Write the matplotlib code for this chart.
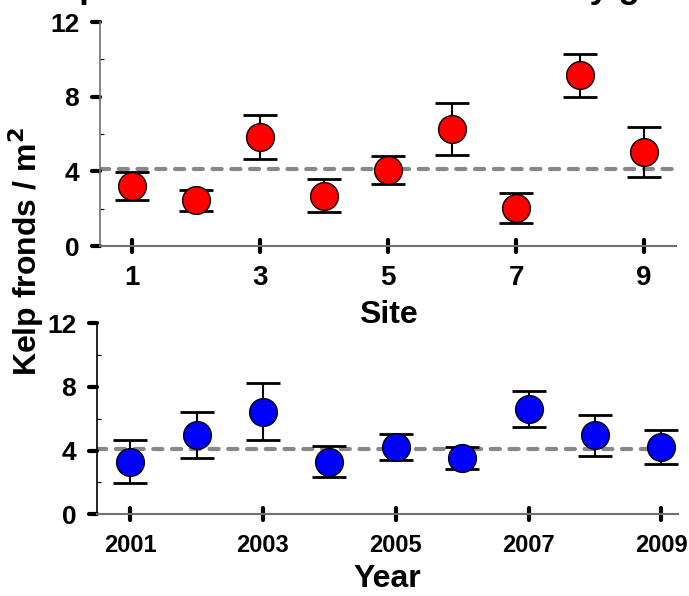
import matplotlib
matplotlib.use('Agg')
import matplotlib.pyplot as plt
from matplotlib.markers import MarkerStyle, TICKLEFT

plt.rcParams['font.family'] = ['Liberation Sans', 'DejaVu Sans']
plt.rcParams['font.weight'] = 'bold'

# --- data ---
sites      = [1, 2, 3, 4, 5, 6, 7, 8, 9]
site_mean  = [3.2, 2.45, 5.82, 2.7, 4.07, 6.25, 2.05, 9.15, 5.03]
site_err   = [0.75, 0.55, 1.18, 0.87, 0.73, 1.40, 0.80, 1.15, 1.35]
site_grand = 4.1

years      = [2001, 2002, 2003, 2004, 2005, 2006, 2007, 2008, 2009]
year_mean  = [3.31, 4.98, 6.45, 3.31, 4.25, 3.52, 6.60, 4.96, 4.25]
year_err   = [1.36, 1.42, 1.78, 0.97, 0.82, 0.68, 1.12, 1.31, 1.07]
year_grand = 4.1

site_ticks = [1, 3, 5, 7, 9]
year_ticks = [2001, 2003, 2005, 2007, 2009]
y_ticks    = [0, 4, 8, 12]
y_minor    = [2, 6, 10]

W, H = 689, 596
fig = plt.figure(figsize=(W / 100, H / 100), dpi=100)

ax1 = fig.add_axes([100 / W, 1 - 246 / H, 576 / W, 224 / H])
ax2 = fig.add_axes([97 / W, 1 - 514.3 / H, 581 / W, 191 / H])


def style_panel(ax, xs, means, errs, grand, color, xticks, xlim, xfs, left_col):
    ax.axhline(grand, color="#888888", linewidth=3, linestyle=(0, (2.2, 2.3)),
               dash_capstyle="round", zorder=1)
    ax.errorbar(xs, means, yerr=errs, fmt="none", ecolor="black",
                elinewidth=1.5, capsize=12, capthick=2, zorder=2)
    ax.plot(xs, means, "o", markersize=20, markerfacecolor=color,
            markeredgecolor="black", markeredgewidth=1, zorder=3)

    ax.set_xlim(*xlim)
    ax.set_ylim(0, 12)
    for s in ["top", "right"]:
        ax.spines[s].set_visible(False)
    ax.spines["left"].set_color(left_col)
    ax.spines["bottom"].set_color("#707070")
    ax.spines["left"].set_linewidth(1.2)
    ax.spines["bottom"].set_linewidth(1.5)

    ax.set_yticks(y_ticks)
    ax.set_yticks(y_minor, minor=True)
    ax.set_xticks(xticks)
    ax.tick_params(axis="y", which="major", direction="out", length=6,
                   width=3, labelsize=19, pad=9)
    ax.tick_params(axis="y", which="minor", direction="in", length=3,
                   width=0.8)
    ax.tick_params(axis="x", which="major", direction="inout", length=8,
                   width=3, labelsize=xfs, pad=10)
    for t in ax.yaxis.get_major_ticks():
        t.tick1line.set_marker(MarkerStyle(TICKLEFT, capstyle="round"))
    for t in ax.xaxis.get_major_ticks():
        t.tick1line.set_marker(MarkerStyle("|", capstyle="round"))
    for lbl in ax.get_xticklabels() + ax.get_yticklabels():
        lbl.set_fontweight("bold")


style_panel(ax1, sites, site_mean, site_err, site_grand, "#FF0000",
            site_ticks, (0.5, 9.5), 20, "#707070")
style_panel(ax2, years, year_mean, year_err, year_grand, "#0000FF",
            year_ticks, (2000.5, 2009.25), 17, "black")

ax1.set_xlabel("Site", fontsize=23, fontweight="bold", labelpad=6)
ax2.set_xlabel("Year", fontsize=23, fontweight="bold", labelpad=5)

fig.text(26 / W, 1 - 252 / H, "Kelp fronds / m$^\\mathbf{2}$", rotation=90,
         ha="center", va="center", fontsize=23, fontweight="bold")

# title, mostly cut off by the top edge in the original
fig.text(56 / W, 1 + 2 / H, "Spatial and interannual variability g",
         ha="left", va="baseline", fontsize=25, fontweight="bold")

fig.savefig("out.png", dpi=100)
